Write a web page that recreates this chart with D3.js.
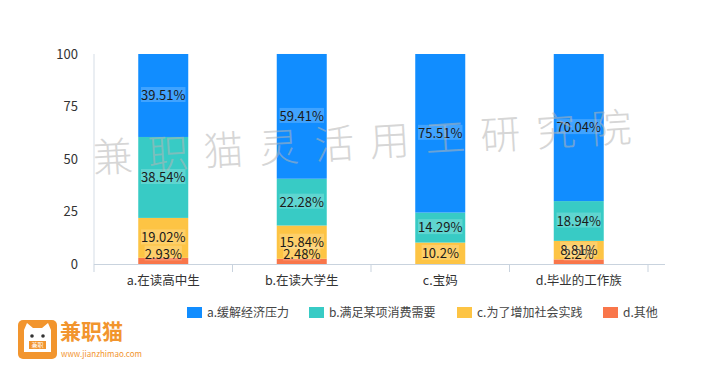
<!DOCTYPE html>
<html>
<head>
<meta charset="utf-8">
<script src="https://cdn.jsdelivr.net/npm/d3@7"></script>
<style>
  body { margin: 0; background: #fff; }
  svg { display: block; }
</style>
</head>
<body>
<div id="chart"></div>
<script>
const categories = ["a.在读高中生", "b.在读大学生", "c.宝妈", "d.毕业的工作族"];
const seriesNames = ["a.缓解经济压力", "b.满足某项消费需要", "c.为了增加社会实践", "d.其他"];
// stacked bottom-up: d, c, b, a
const seriesA = [39.51, 59.41, 75.51, 70.04];
const seriesB = [38.54, 22.28, 14.29, 18.94];
const seriesC = [19.02, 15.84, 10.2, 8.81];
const seriesD = [2.93, 2.48, 0, 2.2];
const yTicks = [0, 25, 50, 75, 100];
const watermark = "兼职猫灵活用工研究院";

const W = 718, H = 378;
const colors = ["#118dff", "#38cbc5", "#fdc444", "#f9764a"];
const font = "'Noto Sans CJK SC', 'Microsoft YaHei', sans-serif";

const svg = d3.select("#chart").append("svg")
  .attr("width", W).attr("height", H)
  .style("font-family", font);

const x = d3.scaleBand().domain(categories).range([94, 648]);
const y = d3.scaleLinear().domain([0, 100]).range([264, 54]);
const barW = 50;

const rows = categories.map((c, i) => ({
  cat: c, a: seriesA[i], b: seriesB[i], c: seriesC[i], d: seriesD[i]
}));
const keys = ["d", "c", "b", "a"];
const keyColor = { a: colors[0], b: colors[1], c: colors[2], d: colors[3] };
const stacked = d3.stack().keys(keys)(rows);

// axes
svg.append("line")
  .attr("x1", 94).attr("x2", 94).attr("y1", y(100)).attr("y2", y(0))
  .attr("stroke", "#d5dde6");
svg.append("line")
  .attr("x1", 94).attr("x2", 665).attr("y1", y(0) + 0.5).attr("y2", y(0) + 0.5)
  .attr("stroke", "#c9d3de");
const bounds = categories.map(c => x(c)).concat([x.range()[1]]);
svg.selectAll("line.xtick").data(bounds).enter().append("line")
  .attr("x1", d => d).attr("x2", d => d)
  .attr("y1", y(0)).attr("y2", y(0) + 8)
  .attr("stroke", "#c9d3de");

svg.selectAll("text.ytick").data(yTicks).enter().append("text")
  .attr("x", 78).attr("y", d => y(d))
  .attr("dy", "0.35em")
  .attr("text-anchor", "end")
  .style("font-size", "13px").attr("fill", "#333")
  .text(d => d);

svg.selectAll("text.xlab").data(categories).enter().append("text")
  .attr("x", d => x(d) + x.bandwidth() / 2).attr("y", 281)
  .attr("dy", "0.35em")
  .attr("text-anchor", "middle")
  .style("font-size", "12.5px").attr("fill", "#333")
  .text(d => d);

// bars
svg.selectAll("g.layer").data(stacked).enter().append("g")
  .attr("fill", d => keyColor[d.key])
  .selectAll("rect").data(d => d).enter().append("rect")
  .attr("x", d => x(d.data.cat) + (x.bandwidth() - barW) / 2)
  .attr("y", d => y(d[1]))
  .attr("width", barW)
  .attr("height", d => y(d[0]) - y(d[1]));

// labels
const labels = [];
stacked.forEach(s => s.forEach(d => {
  const v = d[1] - d[0];
  if (v <= 0) return;
  const raw = d.data[s.key];
  let cy = y((d[0] + d[1]) / 2);
  cy = Math.min(cy, y(0) - 10);
  labels.push({ cx: x(d.data.cat) + x.bandwidth() / 2, cy, t: raw + "%" });
}));
const lg = svg.append("g");
labels.forEach(l => {
  const g = lg.append("g");
  const t = g.append("text")
    .attr("x", l.cx).attr("y", l.cy).attr("dy", "0.35em")
    .attr("text-anchor", "middle")
    .style("font-size", "13px").attr("fill", "#1a1a1a")
    .text(l.t);
  const b = t.node().getBBox();
  g.insert("rect", "text")
    .attr("x", b.x).attr("y", b.y + 2).attr("width", b.width).attr("height", b.height - 4)
    .attr("fill", "#fff").attr("opacity", 0.2);
});

// watermark
const wm = svg.append("g")
  .attr("transform", "translate(362,143) rotate(-3.3)");
wm.selectAll("text").data(watermark.split("")).enter().append("text")
  .attr("x", (d, i) => (i - 4.5) * 55.5)
  .attr("y", 0).attr("dy", "0.35em")
  .attr("text-anchor", "middle")
  .style("font-size", "40px").style("font-weight", 300)
  .attr("fill", "#b5b5b5").attr("opacity", 0.55)
  .text(d => d);

// legend
const legendX = [187, 309, 457, 603];
const legend = svg.append("g");
seriesNames.forEach((n, i) => {
  legend.append("rect")
    .attr("x", legendX[i]).attr("y", 307)
    .attr("width", 15).attr("height", 11)
    .attr("fill", colors[i]);
  legend.append("text")
    .attr("x", legendX[i] + 20).attr("y", 313).attr("dy", "0.35em")
    .style("font-size", "12px").attr("fill", "#444")
    .text(n);
});

// logo
const logo = svg.append("g");
logo.append("rect")
  .attr("x", 18).attr("y", 320).attr("width", 39).attr("height", 39).attr("rx", 5)
  .attr("fill", "#f2952e");
logo.append("path")
  .attr("d", "M24,330 L27,323 L33,328 L42,328 L48,323 L51,330 L51,352 L24,352 Z")
  .attr("fill", "#fff");
logo.append("circle").attr("cx", 32).attr("cy", 336).attr("r", 1.8).attr("fill", "#333");
logo.append("circle").attr("cx", 43).attr("cy", 336).attr("r", 1.8).attr("fill", "#333");
logo.append("rect").attr("x", 29).attr("y", 341).attr("width", 17).attr("height", 8)
  .attr("fill", "#f2952e");
logo.append("text")
  .attr("x", 37.5).attr("y", 345).attr("dy", "0.35em").attr("text-anchor", "middle")
  .style("font-size", "6px").attr("fill", "#fff").text("兼职");
logo.append("text")
  .attr("x", 60).attr("y", 332).attr("dy", "0.35em")
  .style("font-size", "21px").style("font-weight", "bold").attr("fill", "#f2952e")
  .text("兼职猫");
logo.append("text")
  .attr("x", 61).attr("y", 354).attr("dy", "0.35em")
  .style("font-size", "8px").attr("fill", "#f2952e")
  .text("www.jianzhimao.com");
</script>
</body>
</html>
